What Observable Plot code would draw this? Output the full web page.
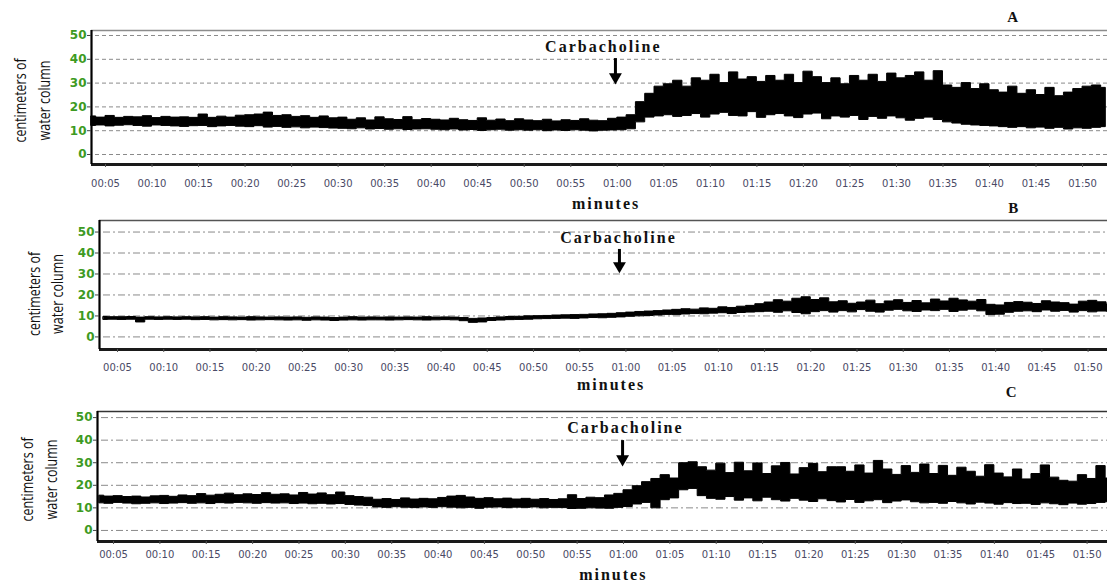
<!DOCTYPE html>
<html><head><meta charset="utf-8">
<script src="https://cdn.jsdelivr.net/npm/d3@7"></script>
<script src="https://cdn.jsdelivr.net/npm/@observablehq/plot@0.6"></script>
<style>
body{margin:0;background:#fff;width:1107px;height:581px;overflow:hidden;position:relative;}
.panel{position:absolute;left:0;}
</style></head><body>
<div id="pA" class="panel" style="top:0px"></div>
<div id="pB" class="panel" style="top:195px"></div>
<div id="pC" class="panel" style="top:385px"></div>
<script>
// ---- data (minutes; first sample at 3.5 min, one sample per minute) ----
const firstMinute = 3.5;
const tickMinutes = [5,10,15,20,25,30,35,40,45,50,55,60,65,70,75,80,85,90,95,100,105,110];
const yTicks = [0,10,20,30,40,50];
const yTitle = "centimeters of\nwater column";
const xTitle = "minutes";
const drugLabel = "Carbacholine";

// Panel A: low / high envelope of the recorded trace
const loA = [12.0,12.2,11.8,12.1,12.3,12.0,11.7,12.2,12.0,11.8,
             11.6,11.9,12.0,11.5,11.8,12.0,11.7,11.5,11.9,11.3,
             11.6,11.2,11.4,11.0,11.3,11.1,10.9,10.8,10.6,11.0,
             10.5,10.7,10.4,10.6,10.3,10.5,10.6,10.4,10.2,10.5,
             10.1,10.3,9.9,10.2,10.4,10.0,10.2,10.0,10.2,9.8,
             10.1,9.9,10.2,10.0,9.7,10.0,10.1,10.2,10.6,13.5,
             15.5,16.0,16.5,15.8,16.2,17.0,15.5,16.8,17.5,16.2,
             16.0,17.8,15.4,16.5,17.0,16.0,15.3,16.8,17.2,14.8,
             16.0,15.5,16.2,14.5,15.8,15.0,16.0,15.2,14.2,15.0,
             15.5,14.5,13.5,13.0,12.5,12.2,12.0,11.8,11.5,11.2,
             11.5,11.0,11.3,10.8,11.2,10.5,11.0,10.8,11.2,11.5];
const hiA = [16.0,15.5,16.2,15.4,15.8,15.6,16.1,15.3,15.8,15.5,
             15.6,15.4,16.8,15.4,15.9,15.5,16.3,16.5,16.8,17.6,
             16.2,16.5,15.8,16.1,15.4,16.0,15.2,15.5,14.6,15.2,
             14.3,15.6,14.8,14.5,15.7,14.4,14.9,14.6,14.3,15.0,
             14.4,14.1,15.2,14.2,14.7,14.0,14.8,14.3,14.0,14.6,
             13.9,14.4,14.1,14.8,14.2,14.0,15.0,15.5,16.5,22.0,
             25.5,28.5,29.5,31.0,28.5,32.0,31.0,33.5,30.0,34.5,
             31.5,32.5,30.5,33.0,31.0,33.5,30.0,34.8,32.5,30.0,
             32.0,29.5,33.0,31.0,33.5,30.5,34.0,32.0,33.0,34.5,
             31.0,35.0,29.0,28.0,30.0,27.5,29.5,27.0,26.0,28.5,
             25.5,27.0,25.0,28.0,24.5,26.0,27.5,28.5,29.0,28.0];

// Panel B
const loB = [8.1,8.2,8.1,8.2,6.9,8.2,8.1,8.2,8.1,8.2,
             8.0,8.1,7.9,8.0,7.9,8.0,7.8,7.9,8.0,7.9,
             7.8,7.9,7.7,7.9,7.8,7.6,7.8,7.9,7.8,7.9,
             7.9,7.8,7.9,8.0,7.9,7.8,7.9,8.0,7.9,7.5,
             6.7,6.9,7.6,7.8,8.0,8.1,8.2,8.4,8.5,8.6,
             8.7,8.6,8.8,9.0,8.9,9.1,9.3,9.6,9.8,10.0,
             10.2,10.5,10.4,10.7,10.9,10.8,11.1,11.3,10.9,11.4,
             11.6,11.8,12.0,11.5,12.2,11.4,10.8,11.8,12.3,11.6,
             12.3,11.7,12.8,12.0,11.6,12.5,12.9,12.2,11.9,12.6,
             12.3,12.9,11.9,12.5,13.0,12.2,10.4,10.6,11.5,12.0,
             12.2,11.8,12.6,12.0,12.4,11.6,12.3,11.7,12.1,12.0];
const hiB = [9.5,9.4,9.4,9.5,9.2,9.4,9.3,9.4,9.3,9.4,
             9.3,9.4,9.2,9.4,9.3,9.2,9.4,9.3,9.2,9.3,
             9.2,9.3,9.1,9.3,9.2,9.0,9.2,9.4,9.2,9.3,
             9.2,9.3,9.2,9.3,9.2,9.4,9.2,9.3,9.2,9.0,
             8.6,8.8,9.0,9.3,9.5,9.6,9.8,9.9,10.0,10.2,
             10.3,10.4,10.5,10.7,10.8,11.0,11.3,11.6,11.9,12.1,
             12.3,12.6,12.9,13.2,13.0,13.6,13.4,14.1,13.8,14.4,
             14.8,15.6,16.4,17.5,16.8,18.2,18.9,17.6,18.4,16.5,
             17.0,15.8,16.4,17.3,15.6,16.9,17.5,16.2,17.1,16.0,
             17.8,16.9,18.2,17.4,16.8,17.6,15.3,15.0,16.2,16.6,
             16.3,15.7,17.0,16.4,16.1,15.4,16.8,17.2,16.5,15.5];

// Panel C
const loC = [12.0,11.8,12.2,11.9,11.6,11.8,12.0,11.7,11.9,12.1,
             11.8,12.0,11.7,12.1,11.9,12.2,12.0,11.8,12.1,11.9,
             12.0,11.7,11.9,11.6,11.8,11.5,11.7,11.3,11.0,10.8,
             10.2,10.0,10.3,10.1,9.9,10.2,10.0,10.3,10.1,9.8,
             10.0,9.6,10.1,10.2,9.9,10.1,10.0,10.2,9.8,10.0,
             9.9,9.5,9.6,9.8,9.7,9.6,10.0,10.4,11.5,12.2,
             9.8,13.4,14.2,17.8,18.4,15.2,14.0,13.6,14.8,13.2,
             14.2,12.9,14.5,13.4,12.8,14.0,13.2,12.6,13.8,13.0,
             12.4,13.5,12.2,12.9,13.4,12.1,12.8,13.3,12.5,12.0,
             12.2,11.8,12.6,12.0,11.5,12.3,11.9,11.4,12.1,11.7,
             11.8,11.3,12.0,11.6,11.2,11.9,11.4,11.7,12.2,12.5];
const hiC = [15.4,15.0,15.2,14.8,15.0,14.6,15.1,15.3,14.9,15.5,
             15.2,16.1,15.4,15.8,16.3,15.6,16.0,15.7,16.5,15.8,
             16.0,15.5,16.6,15.9,16.4,15.6,16.8,15.2,14.8,14.5,
             13.6,13.9,13.5,14.2,13.7,14.0,13.8,14.4,15.0,15.3,
             14.6,14.0,14.3,13.8,14.1,13.7,14.0,13.6,13.9,13.5,
             13.8,15.6,13.9,14.5,14.3,15.5,16.2,17.8,19.6,21.4,
             22.8,24.5,23.0,29.8,30.2,28.0,26.5,29.6,25.4,30.0,
             26.2,29.7,25.0,28.4,29.9,24.8,27.6,29.5,25.8,28.0,
             28.0,26.0,28.8,25.2,30.8,27.0,24.6,28.5,25.5,29.2,
             25.0,28.6,24.2,27.8,26.0,23.8,28.9,25.2,23.5,27.0,
             22.6,25.0,28.8,23.4,22.0,21.6,24.5,22.8,28.5,23.0];

// annotation anchors (minutes, cm)
const panelLetters = ["A","B","C"];
const letterPos = [[102.5,57.6],[101.9,61.5],[101.8,61.1]];
const drugTextPos = [[58.5,45.4],[59.2,47.2],[60.2,45.6]];
const arrowPos = [[59.8,40.3,29.4],[59.3,41.7,30.3],[59.9,39.8,28.3]];
const xTitlePos = [[58.8,-20.6],[58.4,-22.9],[58.9,-19.5]];

// ---- layout / style ----
const panels = [
  {el:"pA", lo:loA, hi:hiA, height:212, mt:30, mb:48, ml:91, xd:[3.495,112.68], yd:[-4.2,52.1],
   dash:"4,3", top:"#8c8c8c", tickPad:12, titleDx:-61, titleDy:3},
  {el:"pB", lo:loB, hi:hiB, height:209, mt:25, mb:55, ml:99, xd:[3.05,112.1], yd:[-6.0,55.5],
   dash:"7,3,2,3", top:"#555", tickPad:11, titleDx:-55.5, titleDy:9},
  {el:"pC", lo:loC, hi:hiC, height:196, mt:26, mb:40, ml:97, xd:[3.27,112.2], yd:[-4.9,52.7],
   dash:"7,3,2,3", top:"#333", tickPad:6, titleDx:-60, titleDy:3}
];
const green = "#3d9a22";
const fmt = m => String(Math.floor(m/60)).padStart(2,"0") + ":" + String(m%60).padStart(2,"0");
const downTriangle = {draw(ctx, size){ const y = Math.sqrt(size/(Math.sqrt(3)*3));
  ctx.moveTo(0, 2*y); ctx.lineTo(-Math.sqrt(3)*y, -y); ctx.lineTo(Math.sqrt(3)*y, -y); ctx.closePath(); }};
const serif = "'Liberation Serif','Times New Roman',serif";

panels.forEach((p, k) => {
  const data = p.lo.map((lo, i) => ({t: firstMinute + i, lo, hi: p.hi[i]}));
  const arrow = [{x: arrowPos[k][0], top: arrowPos[k][1], tip: arrowPos[k][2]}];
  const svg = Plot.plot({
    width: 1107, height: p.height,
    marginTop: p.mt, marginBottom: p.mb, marginLeft: p.ml, marginRight: 0,
    style: {background: "transparent", overflow: "visible"},
    x: {domain: p.xd}, y: {domain: p.yd},
    marks: [
      Plot.gridY(yTicks, {stroke: "#8a8a8a", strokeOpacity: 1, strokeWidth: 1, strokeDasharray: p.dash, insetLeft: 4}),
      Plot.areaY(data, {x: "t", y1: "lo", y2: "hi", curve: "step", fill: "#000", stroke: "#000", strokeWidth: 1}),
      Plot.ruleY([p.yd[1]], {stroke: p.top, strokeWidth: 1.5}),
      Plot.ruleY([p.yd[0]], {stroke: "#1a1a1a", strokeWidth: 3}),
      Plot.ruleX([p.xd[0]], {stroke: "#000", strokeWidth: 2.2}),
      Plot.axisY(yTicks, {tickSize: 4, tickPadding: 1, fill: green, stroke: "#444", fontWeight: "bold",
        fontSize: 12, fontFamily: "'DejaVu Sans', sans-serif", label: null}),
      Plot.axisX(tickMinutes, {tickSize: 3, tickPadding: p.tickPad, tickFormat: fmt, fill: "#4a4a66", stroke: "#555",
        fontSize: 10, fontFamily: "'DejaVu Sans', sans-serif", label: null}),
      Plot.text([yTitle], {frameAnchor: "left", textAnchor: "middle", rotate: -90, dx: p.titleDx, dy: p.titleDy,
        lineHeight: 1.45, fontSize: 16, fontFamily: "'Open Sans',sans-serif", fill: "#111"}),
      Plot.ruleX(arrow, {x: "x", y1: "top", y2: "tip", stroke: "#000", strokeWidth: 3, insetBottom: 8}),
      Plot.dot(arrow, {x: "x", y: "tip", symbol: downTriangle, r: 4.8, fill: "#000", stroke: null, dy: -7.5}),
      Plot.text([drugLabel], {x: () => drugTextPos[k][0], y: () => drugTextPos[k][1], fontFamily: serif,
        fontWeight: "bold", fontSize: 16, fill: "#111"}),
      Plot.text([xTitle], {x: () => xTitlePos[k][0], y: () => xTitlePos[k][1], fontFamily: serif,
        fontWeight: "bold", fontSize: 16, fill: "#111"}),
      Plot.text([panelLetters[k]], {x: () => letterPos[k][0], y: () => letterPos[k][1], fontFamily: serif,
        fontWeight: "bold", fontSize: 15, fill: "#111"})
    ]
  });
  svg.querySelectorAll("text").forEach(t => {
    if (t.textContent === drugLabel || t.textContent === xTitle) t.style.letterSpacing = "2px";
    if (t.textContent.startsWith("centimeters")) {
      const tr = t.getAttribute("transform") || "";
      t.setAttribute("transform", tr + " scale(0.78,1)");
    }
  });
  document.getElementById(p.el).appendChild(svg);
});
</script>
</body></html>
